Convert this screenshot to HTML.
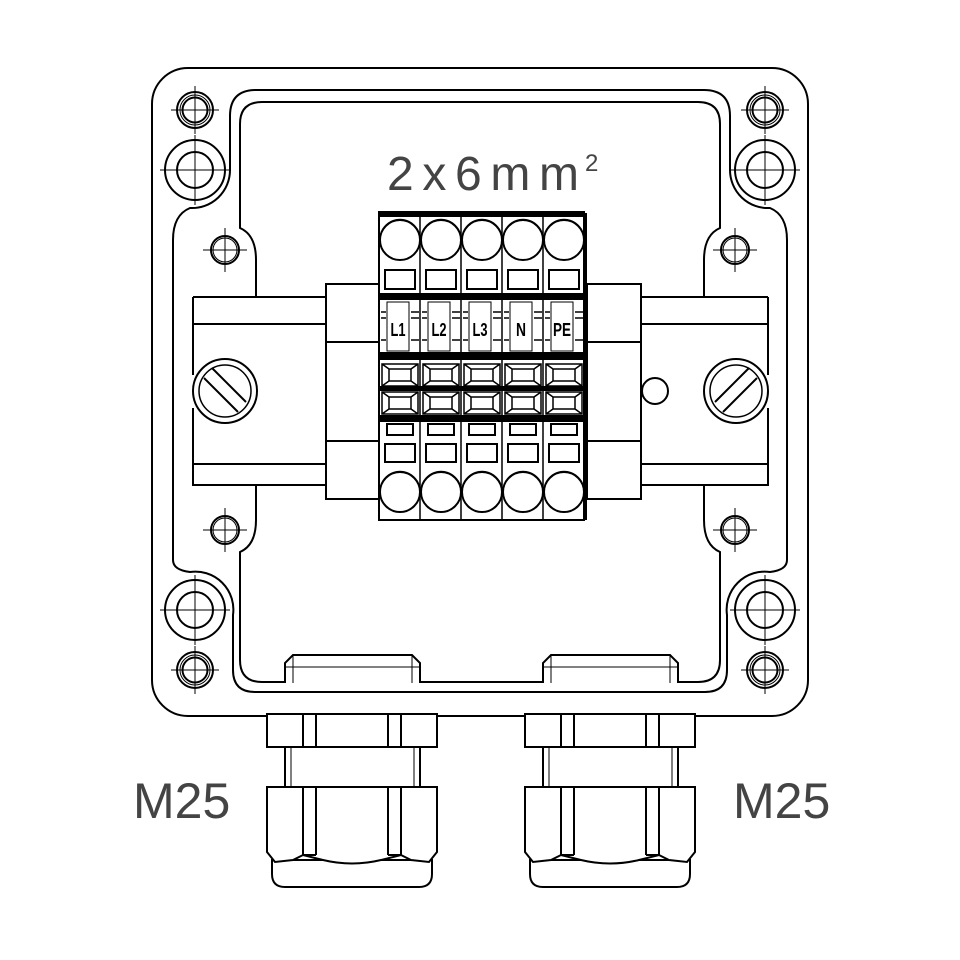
<!DOCTYPE html>
<html><head><style>html,body{margin:0;padding:0;background:#fff}svg{display:block}</style></head>
<body>
<svg width="960" height="960" viewBox="0 0 960 960" xmlns="http://www.w3.org/2000/svg">
<defs>
<g id="bs"><circle r="18" fill="none" stroke="#000" stroke-width="2"/><circle r="15" fill="none" stroke="#000" stroke-width="1"/><circle r="12.5" fill="none" stroke="#000" stroke-width="2"/><path d="M-24 0H24M0 -24V24" stroke="#000" stroke-width="1"/></g>
<g id="bl"><circle r="30" fill="none" stroke="#000" stroke-width="2"/><circle r="18" fill="none" stroke="#000" stroke-width="2"/><path d="M-35 0H35M0 -35V35" stroke="#000" stroke-width="1"/></g>
<g id="bm"><circle r="14" fill="none" stroke="#000" stroke-width="2"/><circle r="12" fill="none" stroke="#000" stroke-width="1"/><path d="M-22 0H22M0 -22V22" stroke="#000" stroke-width="1"/></g>
<g id="gl" fill="#fff" stroke="#000" stroke-width="2">
<path d="M18 683V663l8-8h119l8 8v20" /><path d="M26 655v28M145 655v28" stroke-width="1"/><path d="M18 667H153" stroke-width="1"/>
<rect x="0" y="714" width="170" height="33"/>
<path d="M36 714v33M49 714v33M121 714v33M134 714v33"/>
<rect x="18" y="747" width="135" height="40"/><path d="M24 747v40M147 747v40" stroke-width="1"/>
<path d="M5 860h160v14q0 13-13 13H18q-13 0-13-13z"/>
<path d="M0 787h170v65l-8 10l-18-2l-10-5l-20 5q-29 7-58 0l-20-5l-10 5l-18 2l-8-10z"/>
<path d="M36 787v68M49 787v68M121 787v68M134 787v68"/><path d="M36 855h13M121 855h13"/>
</g>
</defs>
<g fill="none" stroke="#000" stroke-width="2">
<rect x="152" y="68" width="656" height="648" rx="36"/>
<!-- groove outer -->
<path d="M256 90H704Q730 90 730 116V170A38 38 0 0 0 770 208Q787 215 787 240V560Q787 570 770 572A38 38 0 0 0 727 615V670Q727 692 705 692H255Q233 692 233 670V615A38 38 0 0 0 190 572Q173 570 173 560V240Q173 215 190 208A38 38 0 0 0 230 170V116Q230 90 256 90Z"/>
<!-- inner -->
<path d="M256 297V260Q256 235 240 228V124Q240 102 262 102H698Q720 102 720 124V228Q704 235 704 260V297"/>
<path d="M704 485V520Q704 545 720 552V660Q720 682 698 682H262Q240 682 240 660V552Q256 545 256 520V485"/>
</g>
<use href="#bs" x="195" y="110"/><use href="#bs" x="765" y="110"/>
<use href="#bs" x="195" y="670"/><use href="#bs" x="765" y="670"/>
<use href="#bl" x="195" y="170"/><use href="#bl" x="765" y="170"/>
<use href="#bl" x="195" y="610"/><use href="#bl" x="765" y="610"/>
<use href="#bm" x="225" y="250"/><use href="#bm" x="735" y="250"/>
<use href="#bm" x="225" y="530"/><use href="#bm" x="735" y="530"/>
<!-- rail -->
<g fill="#fff" stroke="#000" stroke-width="2">
<path d="M193 297H326V485H193V408M193 375V297"/>
<path d="M193 324H326M193 464H326"/>
<circle cx="225" cy="391" r="32"/><circle cx="225" cy="391" r="26" stroke-width="1.5"/>
<path d="M212 368L246 402M204 378L238 412" />
<rect x="326" y="284" width="54" height="215"/><path d="M326 342H380M326 441H380"/>
<path d="M768 297H641V485H768V408M768 375V297"/>
<path d="M641 324H768M641 464H768"/>
<circle cx="736" cy="391" r="32"/><circle cx="736" cy="391" r="26" stroke-width="1.5"/>
<path d="M749 368L715 402M757 378L723 412"/>
<rect x="587" y="284" width="54" height="215"/><path d="M587 342H641M587 441H641"/>
<circle cx="655" cy="391" r="13"/>
</g>
<!-- terminal block -->
<g stroke="#000" stroke-width="2" fill="#fff">
<rect x="379" y="213" width="205" height="307"/>
<path d="M586 213V520" stroke-width="2"/>
<rect x="379" y="212" width="205" height="4" fill="#000"/>
<rect x="379" y="294" width="205" height="5" fill="#000"/>
<rect x="379" y="353" width="205" height="6" fill="#000"/>
<rect x="379" y="387" width="205" height="3" fill="#000"/>
<rect x="379" y="416" width="205" height="5" fill="#000"/>
<path d="M420 213V520M461 213V520M502 213V520M543 213V520" stroke-width="1.5"/>
</g>
<g id="col" stroke="#000" fill="#fff">
<circle cx="400" cy="240" r="20" stroke-width="2"/><path d="M381 233A20 20 0 0 1 419 233" fill="none" stroke-width="1"/>
<rect x="385" y="270" width="30" height="19" stroke-width="2"/>
<rect x="387" y="302" width="22" height="49" stroke-width="1"/>
<path d="M381 312h5M381 318h5M381 340h5M411 312h8M411 318h8M411 340h8" stroke-width="1.5"/>
<path d="M382 364h36v22h-36zM389 369h22v12h-22zM382 364l7 5M418 364l-7 5M382 386l7-5M418 386l-7-5" stroke-width="1.5" fill="none"/>
<path d="M382 392h36v22h-36zM389 397h22v12h-22zM382 392l7 5M418 392l-7 5M382 414l7-5M418 414l-7-5" stroke-width="1.5" fill="none"/>
<rect x="387" y="424" width="26" height="11" stroke-width="2"/>
<rect x="385" y="444" width="30" height="18" stroke-width="2"/>
<circle cx="400" cy="492" r="20" stroke-width="2"/><path d="M381 485A20 20 0 0 1 419 485" fill="none" stroke-width="1"/>
</g>
<use href="#col" x="41"/><use href="#col" x="82"/><use href="#col" x="123"/><use href="#col" x="164"/>
<g font-family="Liberation Sans, sans-serif" font-weight="bold" font-size="18" text-anchor="middle" fill="#000">
<text x="398" y="336" textLength="15" lengthAdjust="spacingAndGlyphs">L1</text>
<text x="439" y="336" textLength="15" lengthAdjust="spacingAndGlyphs">L2</text>
<text x="480" y="336" textLength="15" lengthAdjust="spacingAndGlyphs">L3</text>
<text x="521" y="336" textLength="10" lengthAdjust="spacingAndGlyphs">N</text>
<text x="562" y="336" textLength="18" lengthAdjust="spacingAndGlyphs">PE</text>
</g>
<use href="#gl" x="267"/><use href="#gl" x="525"/>
<g font-family="Liberation Sans, sans-serif" fill="#444">
<text x="387" y="190" font-size="48" textLength="192" lengthAdjust="spacing">2x6mm</text>
<text x="585" y="171" font-size="24">2</text>
<text x="133" y="818" font-size="50">M25</text>
<text x="733" y="818" font-size="50">M25</text>
</g>
</svg>
</body></html>
